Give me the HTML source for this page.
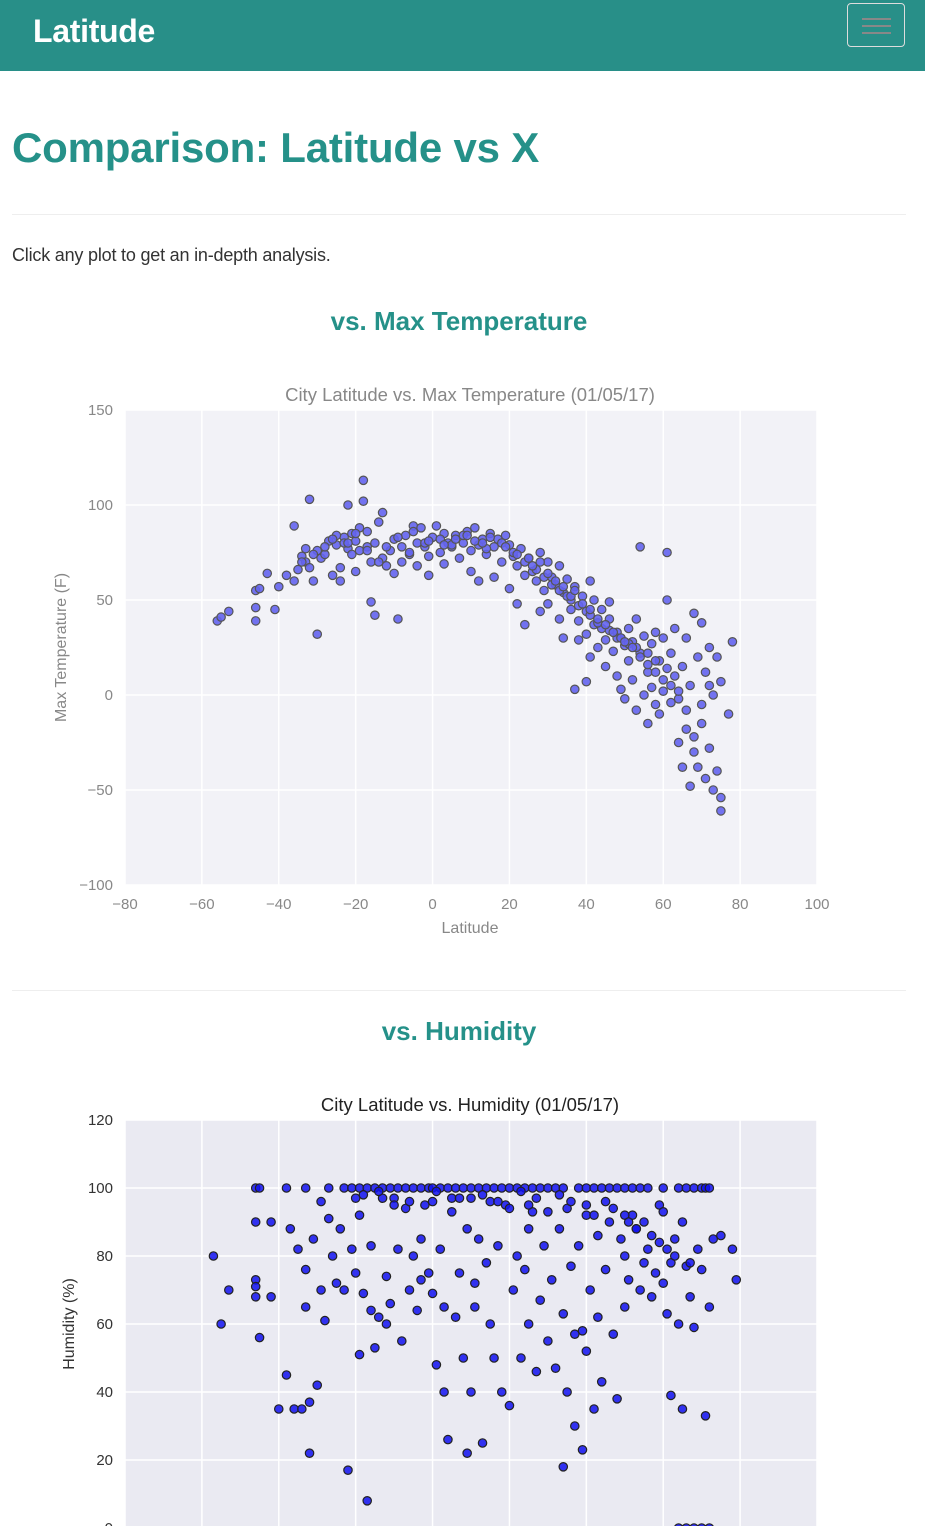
<!DOCTYPE html>
<html><head><meta charset="utf-8"><style>
body{margin:0;width:925px;height:1526px;overflow:hidden;background:#fff;font-family:"Liberation Sans",sans-serif;position:relative}
.abs{position:absolute}
</style></head><body>
<div class="abs" style="left:0;top:0;width:925px;height:71px;background:#288f88"></div>
<div class="abs" style="left:33px;top:13px;font-size:32px;font-weight:bold;color:#fff;letter-spacing:-0.3px">Latitude</div>
<div class="abs" style="left:847px;top:3px;width:58px;height:44px;border:1px solid #ddd;border-radius:4px;box-sizing:border-box">
<div style="position:absolute;left:14px;top:14px;width:29px;height:2px;background:#888"></div>
<div style="position:absolute;left:14px;top:21px;width:29px;height:2px;background:#888"></div>
<div style="position:absolute;left:14px;top:28px;width:29px;height:2px;background:#888"></div></div>
<div class="abs" style="left:12px;top:124px;font-size:42px;font-weight:bold;color:#259189;letter-spacing:-0.2px">Comparison: Latitude vs X</div>
<div class="abs" style="left:12px;top:214px;width:894px;height:1px;background:#eee"></div>
<div class="abs" style="left:12px;top:245px;font-size:18px;color:#333;letter-spacing:-0.2px">Click any plot to get an in-depth analysis.</div>
<div class="abs" style="left:0;width:918px;text-align:center;top:306px;font-size:26px;font-weight:bold;color:#259189">vs. Max Temperature</div>
<div class="abs" style="left:12px;top:990px;width:894px;height:1px;background:#eee"></div>
<div class="abs" style="left:0;width:918px;text-align:center;top:1016px;font-size:26px;font-weight:bold;color:#259189">vs. Humidity</div>
<svg class="abs" id="c1" style="left:0;top:370px" width="925" height="580"></svg>
<svg class="abs" id="c2" style="left:0;top:1080px" width="925" height="446"></svg>
<script>
const xTicks=[-80,-60,-40,-20,0,20,40,60,80,100];
const tempTicks=[150,100,50,0,-50,-100];
const humTicks=[120,100,80,60,40,20,0];
const tempLat=[-56,-55,-53,-46,-46,-46,-45,-43,-41,-40,-38,-36,-36,-35,-34,-33,-33,-32,-32,-31,-30,-30,-29,-28,-27,-26,-25,-24,-24,-23,-22,-22,-21,-20,-20,-19,-18,-18,-17,-17,-16,-16,-15,-15,-14,-13,-13,-12,-11,-10,-10,-9,-8,-7,-6,-5,-4,-4,-3,-2,-1,0,-1,1,2,3,3,4,5,6,7,8,9,10,10,11,12,12,13,14,15,16,16,17,18,19,20,20,21,22,22,23,24,24,25,26,27,28,28,29,30,30,31,32,33,33,34,34,35,36,36,37,37,38,38,39,40,40,40,41,41,42,42,43,44,44,45,45,46,46,47,48,48,49,49,50,50,51,51,52,52,53,53,54,54,55,55,56,56,57,57,58,58,59,59,60,60,61,61,62,62,63,63,64,64,65,65,66,66,67,67,68,68,69,69,70,70,71,71,72,72,73,73,74,74,75,75,75,77,78,-25,-23,-21,-19,-14,-8,-6,-2,2,5,8,11,14,18,21,24,27,29,31,33,35,38,41,43,46,48,51,53,56,58,61,-34,-31,-28,-26,-22,-20,-17,-12,-9,-5,-1,3,6,9,13,15,19,22,25,26,28,30,32,34,36,37,39,41,43,45,47,49,50,52,54,56,58,60,62,64,66,68,70,72];
const tempVal=[39,41,44,55,46,39,56,64,45,57,63,60,89,66,73,70,77,67,103,60,32,76,72,74,81,63,79,67,60,83,77,100,74,81,65,88,102,113,78,86,49,70,42,80,91,96,72,68,76,82,64,40,70,84,74,89,80,68,88,78,73,83,63,89,75,85,69,80,78,84,72,80,86,76,65,88,60,79,82,74,85,62,78,82,70,84,56,79,73,48,68,77,63,37,72,65,60,75,44,55,70,48,62,58,68,40,54,30,61,50,45,3,57,39,29,52,44,32,7,60,20,37,50,25,45,35,15,29,49,40,23,10,33,3,30,26,-2,35,18,8,28,-8,40,78,22,0,31,-15,12,27,4,-5,33,18,-10,2,30,50,75,-4,22,10,35,-25,-2,15,-38,30,-18,5,-48,43,-22,20,-38,-5,38,12,-44,-28,25,0,-50,-40,20,-54,-61,7,-10,28,84,80,85,76,70,78,75,80,82,79,84,81,77,80,75,70,66,62,58,55,52,47,42,38,34,30,27,25,22,18,14,70,74,78,82,80,85,76,78,83,86,81,79,82,84,80,83,78,74,72,68,70,64,60,57,52,55,48,45,40,37,33,30,28,25,20,16,12,8,5,2,-8,-30,-15,5];
const humLat=[-46,-45,-38,-33,-27,-23,-21,-19,-17,-15,-13,-11,-9,-7,-5,-3,-1,0,2,4,6,8,10,12,14,16,18,20,22,24,26,28,30,32,34,38,40,42,44,46,48,50,52,54,56,60,64,66,68,70,71,72,-57,-55,-53,-46,-46,-46,-46,-45,-42,-42,-40,-38,-37,-36,-35,-34,-33,-33,-32,-32,-31,-30,-29,-29,-28,-27,-26,-25,-24,-23,-22,-21,-20,-19,-19,-18,-17,-16,-16,-15,-14,-13,-12,-11,-10,-9,-8,-7,-6,-5,-4,-3,-2,-1,0,1,2,3,3,4,5,6,7,8,9,9,10,11,12,13,14,15,16,17,18,19,20,21,22,23,24,25,26,27,28,29,30,31,32,33,34,34,35,36,37,37,38,39,40,40,41,42,43,43,44,45,46,47,48,49,50,50,51,52,53,54,55,56,57,58,59,60,61,62,62,63,64,65,65,66,67,68,69,70,71,72,73,75,78,79,64,66,68,70,72,-20,-10,0,10,20,30,40,50,55,60,45,35,25,15,5,-18,-14,-6,1,7,13,17,23,27,33,36,42,47,51,53,57,59,61,63,67,-12,-3,11,25,39];
const humVal=[100,100,100,100,100,100,100,100,100,100,100,100,100,100,100,100,100,100,100,100,100,100,100,100,100,100,100,100,100,100,100,100,100,100,100,100,100,100,100,100,100,100,100,100,100,100,100,100,100,100,100,100,80,60,70,90,73,71,68,56,90,68,35,45,88,35,82,35,76,65,37,22,85,42,96,70,61,91,80,72,88,70,17,82,75,51,92,69,8,83,64,53,62,97,74,66,97,82,55,94,70,80,64,85,95,75,69,48,82,40,65,26,93,62,75,50,22,88,40,65,85,25,78,60,50,83,40,95,36,70,80,50,76,60,93,46,67,83,55,73,47,88,18,63,40,77,30,57,83,23,52,92,70,35,86,62,43,76,90,57,38,85,80,65,73,92,88,70,78,82,68,75,95,72,63,78,39,85,60,90,35,77,68,59,82,76,33,65,85,86,82,73,0,0,0,0,0,97,95,96,97,94,93,95,92,90,93,96,94,95,96,97,98,99,96,99,97,98,96,99,97,98,96,92,94,90,88,86,84,82,80,78,60,73,72,88,58];
const NS='http://www.w3.org/2000/svg';
function mk(svg,tag,attrs,txt){const e=document.createElementNS(NS,tag);for(const k in attrs)e.setAttribute(k,attrs[k]);if(txt!==undefined)e.textContent=txt;svg.appendChild(e);return e;}
function chart(id,opt){
 const svg=document.getElementById(id);
 const L=125,R=817,T=opt.top,B=opt.bottom;
 const xs=v=>L+(v+80)/180*(R-L);
 const ys=v=>T+(opt.ymax-v)/(opt.ymax-opt.ymin)*(B-T);
 const bg=mk(svg,'rect',{x:L,y:T,width:R-L,height:B-T,fill:opt.bg});
 
 
 xTicks.forEach(t=>{const l=mk(svg,'line',{x1:xs(t),x2:xs(t),y1:T,y2:B,stroke:'#fff','stroke-width':1.5});
  
  
  if(opt.showX){const tx=mk(svg,'text',{x:xs(t),y:B+24,'text-anchor':'middle','font-size':15,fill:opt.tc},String(t).replace('-','\u2212'));
  
  }});
 opt.yTicks.forEach(t=>{const l=mk(svg,'line',{x1:L,x2:R,y1:ys(t),y2:ys(t),stroke:'#fff','stroke-width':1.5});
  
  
  const tx=mk(svg,'text',{x:L-12,y:ys(t)+5,'text-anchor':'end','font-size':15,fill:opt.tc},String(t).replace('-','\u2212'));
  
  });
 opt.lat.forEach((la,i)=>{const c=mk(svg,'circle',{cx:xs(la),cy:ys(opt.val[i]),r:4.2,fill:opt.pf,'fill-opacity':opt.op,stroke:opt.ps,'stroke-width':1.2});
  
  });
 const tt=mk(svg,'text',{x:470,y:opt.titleY,'text-anchor':'middle','font-size':18.5,fill:opt.titc},opt.title);
 
 
 const yl=mk(svg,'text',{x:0,y:0,'text-anchor':'middle','font-size':16,fill:opt.tc,transform:'translate('+opt.ylx+','+((T+B)/2)+') rotate(-90)'},opt.ylabel);
 
 
 if(opt.showX){const xl=mk(svg,'text',{x:470,y:B+48,'text-anchor':'middle','font-size':16,fill:opt.tc},'Latitude');
 
 }
}
chart('c1',{top:40,bottom:515,ymax:150,ymin:-100,yTicks:tempTicks,bg:'#f2f2f7',tc:'#888',titc:'#888',pf:'#6464ee',op:0.9,ps:'#555',lat:tempLat,val:tempVal,title:'City Latitude vs. Max Temperature (01/05/17)',titleY:31,ylabel:'Max Temperature (F)',ylx:66,showX:true});
chart('c2',{top:40,bottom:448,ymax:120,ymin:0,yTicks:humTicks,bg:'#eaeaf2',tc:'#333',titc:'#222',pf:'#1010f0',op:0.85,ps:'#222',lat:humLat,val:humVal,title:'City Latitude vs. Humidity (01/05/17)',titleY:31,ylabel:'Humidity (%)',ylx:74,showX:false});
</script>
</body></html>
